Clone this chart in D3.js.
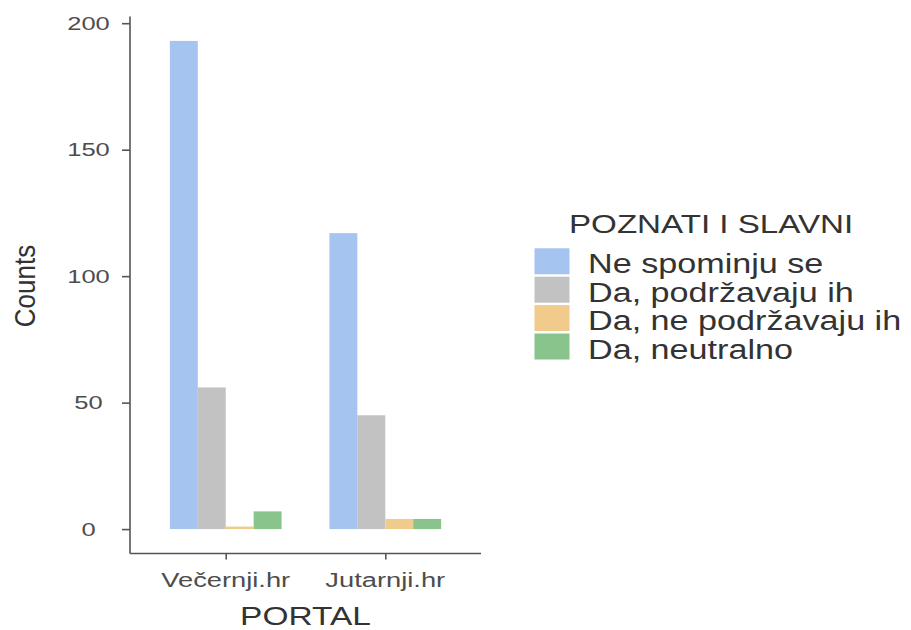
<!DOCTYPE html>
<html><head><meta charset="utf-8">
<script src="https://cdn.jsdelivr.net/npm/d3@7"></script>
<style>html,body{margin:0;padding:0;background:#fff;}svg{display:block;font-family:"Liberation Sans",Arial,sans-serif;}</style>
</head><body>
<script>
const portals = ["Večernji.hr", "Jutarnji.hr"];
const groups = ["Ne spominju se", "Da, podržavaju ih", "Da, ne podržavaju ih", "Da, neutralno"];
const colors = ["#a6c4f0", "#c2c2c2", "#f0cb8c", "#88c48c"];
const countsVecernji = [193, 56, 1, 7];
const countsJutarnji = [117, 45, 4, 4];
const yTicks = [0, 50, 100, 150, 200];
const seriesByPortal = [countsVecernji, countsJutarnji];

const W = 911, H = 630;
const svg = d3.select("body").append("svg").attr("width", W).attr("height", H);

const maxV = d3.max(seriesByPortal.flat());
const pad = 0.05 * maxV;
const y = d3.scaleLinear().domain([0 - pad, maxV + pad]).range([553.5, 16.5]);
const x = d3.scalePoint().domain(portals).range([130, 481]).padding(0.6);
const step = x.step();
const bw = step * 0.7 / groups.length;

// bars
portals.forEach((p, pi) => {
  seriesByPortal[pi].forEach((v, gi) => {
    svg.append("rect")
      .attr("x", x(p) - step * 0.35 + gi * bw)
      .attr("y", y(v))
      .attr("width", bw)
      .attr("height", y(0) - y(v))
      .attr("fill", colors[gi]);
  });
});

const axisCol = "#555";
// y axis
const yAxis = svg.append("g").attr("transform", "translate(130,0)")
  .call(d3.axisLeft(y).tickValues(yTicks).tickSize(8).tickFormat(""));
yAxis.select(".domain").attr("d", `M0,${y.range()[0]}V${y.range()[1]}`).attr("stroke", axisCol).attr("stroke-width", 1.6);
yAxis.selectAll(".tick line").attr("stroke", axisCol).attr("stroke-width", 1.6);
yTicks.forEach(t => {
  svg.append("text")
    .attr("transform", `translate(88.5,${y(t)}) scale(1.38,1)`)
    .attr("text-anchor", "middle").attr("dy", "0.36em")
    .attr("font-size", 18.5).attr("fill", "#4d4d4d").text(t);
});

// x axis
const xAxis = svg.append("g").attr("transform", `translate(0,${y.range()[0]})`)
  .call(d3.axisBottom(x).tickSize(6).tickFormat(""));
xAxis.select(".domain").attr("d", "M130,0H481").attr("stroke", axisCol).attr("stroke-width", 1.6);
xAxis.selectAll(".tick line").attr("stroke", axisCol).attr("stroke-width", 1.6);
portals.forEach(p => {
  svg.append("text")
    .attr("transform", `translate(${x(p)},587) scale(1.4,1)`)
    .attr("text-anchor", "middle")
    .attr("font-size", 19.5).attr("fill", "#4d4d4d").text(p);
});

// axis titles
svg.append("text")
  .attr("transform", "translate(305.5,625) scale(1.34,1)")
  .attr("text-anchor", "middle").attr("font-size", 25).attr("fill", "#333").text("PORTAL");
svg.append("text")
  .attr("transform", "translate(35,286) scale(1.15,1) rotate(-90)")
  .attr("text-anchor", "middle").attr("font-size", 26).attr("fill", "#333").text("Counts");

// legend
svg.append("text")
  .attr("transform", "translate(569,233) scale(1.3,1)")
  .attr("font-size", 25.5).attr("fill", "#333").text("POZNATI I SLAVNI");
groups.forEach((g, i) => {
  const ky = 248.3 + i * 28.4;
  svg.append("rect").attr("x", 534.5).attr("y", ky).attr("width", 35).attr("height", 26).attr("fill", colors[i]);
  svg.append("text")
    .attr("transform", `translate(588,${ky + 25}) scale(1.22,1)`)
    .attr("font-size", 28).attr("fill", "#333").text(g);
});
</script>
</body></html>
